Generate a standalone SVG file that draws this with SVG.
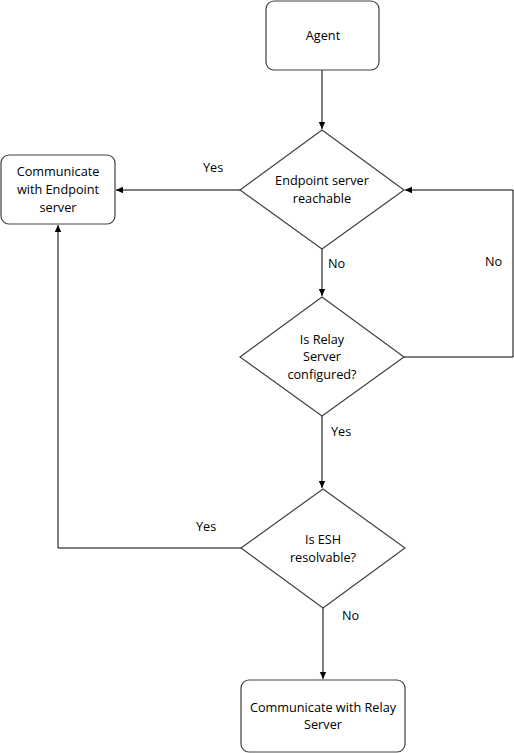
<svg xmlns="http://www.w3.org/2000/svg" width="514" height="753" viewBox="0 0 514 753">
<style>
.box{fill:#fff;stroke:#404040;stroke-width:1.2}
.t{font-family:"Open Sans","Liberation Sans",sans-serif;font-size:12.7px;fill:#000;text-anchor:middle}
.l{font-family:"Open Sans","Liberation Sans",sans-serif;font-size:12.7px;fill:#000}
.c{fill:none;stroke:#000;stroke-width:1}
</style>
<defs>
<marker id="a" markerWidth="8" markerHeight="8" refX="7" refY="4" orient="auto" markerUnits="userSpaceOnUse">
<path d="M0,0.8 L7,4 L0,7.2 Z" fill="#000"/>
</marker>
</defs>
<rect width="514" height="753" fill="#fff"/>
<g id="connectors">
<path class="c" d="M322,70 V129" marker-end="url(#a)"/>
<path class="c" d="M240,190 H116" marker-end="url(#a)"/>
<path class="c" d="M322,249 V296" marker-end="url(#a)"/>
<path class="c" d="M404,357 H513 V190 H405" marker-end="url(#a)"/>
<path class="c" d="M322,416 V488" marker-end="url(#a)"/>
<path class="c" d="M241,548 H58 V225" marker-end="url(#a)"/>
<path class="c" d="M323,608 V679" marker-end="url(#a)"/>
<text class="l" x="203" y="172">Yes</text>
<text class="l" x="328" y="268">No</text>
<text class="l" x="485" y="266">No</text>
<text class="l" x="331" y="436">Yes</text>
<text class="l" x="196" y="531">Yes</text>
<text class="l" x="342" y="620">No</text>
</g>
<g id="agent">
<rect class="box" x="266" y="1" width="113" height="69" rx="8"/>
<text class="t" x="323" y="40">Agent</text>
</g>
<g id="endpoint-reachable">
<path class="box" d="M322,130 L404,190 L322,249 L240,190 Z"/>
<text class="t" x="322" y="185">Endpoint server</text>
<text class="t" x="322" y="203">reachable</text>
</g>
<g id="communicate-endpoint">
<rect class="box" x="1" y="155" width="114" height="69" rx="8"/>
<text class="t" x="58" y="176">Communicate</text>
<text class="t" x="58" y="194">with Endpoint</text>
<text class="t" x="58" y="212">server</text>
</g>
<g id="relay-configured">
<path class="box" d="M322,297 L404,357 L322,416 L240,357 Z"/>
<text class="t" x="322" y="344">Is Relay</text>
<text class="t" x="322" y="361">Server</text>
<text class="t" x="322" y="379">configured?</text>
</g>
<g id="esh-resolvable">
<path class="box" d="M323,489 L405,548 L323,608 L241,548 Z"/>
<text class="t" x="323" y="544">Is ESH</text>
<text class="t" x="323" y="562">resolvable?</text>
</g>
<g id="communicate-relay">
<rect class="box" x="241" y="680" width="164" height="72" rx="8"/>
<text class="t" x="323" y="712">Communicate with Relay</text>
<text class="t" x="323" y="729">Server</text>
</g>
</svg>
